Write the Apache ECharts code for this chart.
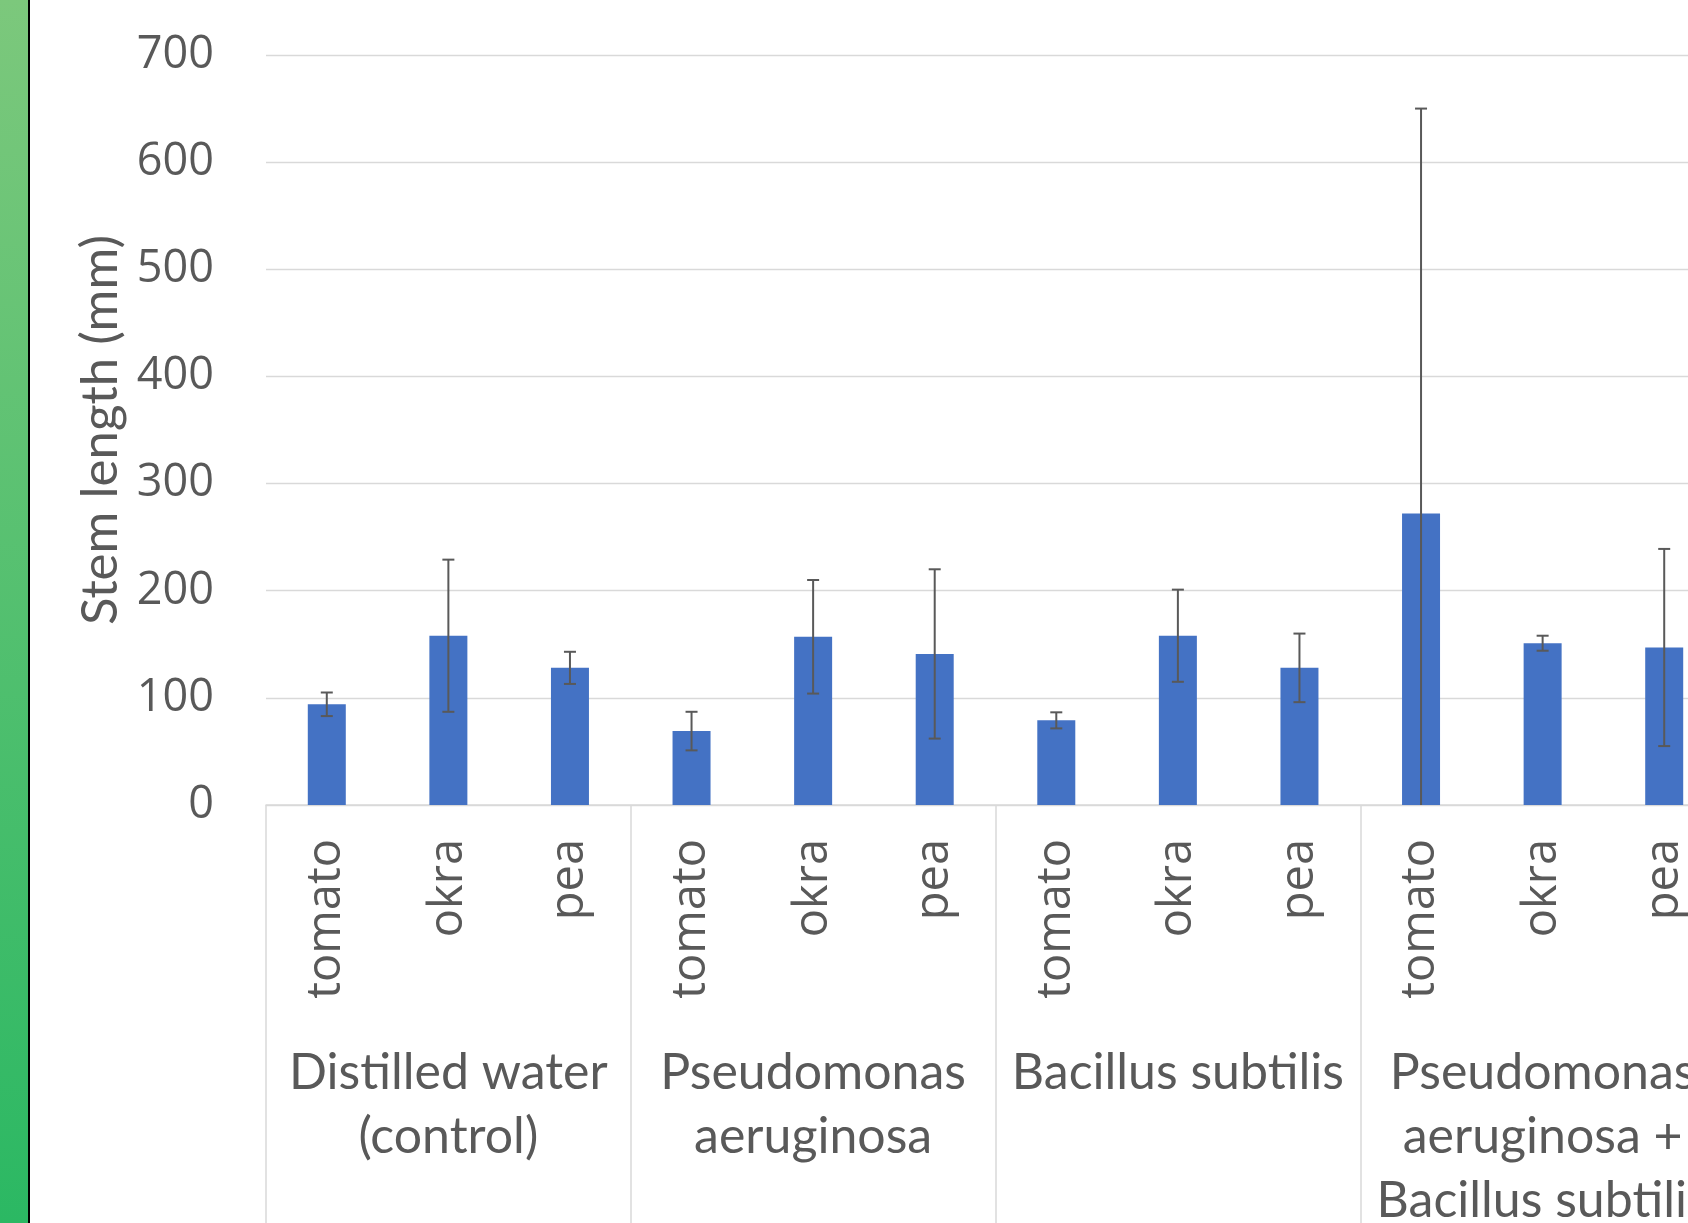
<!DOCTYPE html>
<html>
<head>
<meta charset="utf-8">
<title>Stem length</title>
<script src="https://cdn.jsdelivr.net/npm/echarts@6/dist/echarts.min.js"></script>
<style>
  html, body { margin: 0; padding: 0; background: #fff; }
  #main { width: 1688px; height: 1223px; }
</style>
</head>
<body>
<div id="main"></div>
<script>
// plants per treatment
var plants = ['tomato', 'okra', 'pea', 'tomato', 'okra', 'pea', 'tomato', 'okra', 'pea', 'tomato', 'okra', 'pea'];
var treatments = ['Distilled water\n(control)', 'Pseudomonas\naeruginosa', 'Bacillus subtilis', 'Pseudomonas\naeruginosa +\nBacillus subtilis'];
// mean stem length (mm)
var meanLength = [94, 158, 128, 69, 157, 141, 79, 158, 128, 272, 151, 147];
// error (+/-)
var errLength = [11, 71, 15, 18, 53, 79, 7.5, 43, 32, 378, 7, 92];
var yTicks = [0, 700, 100];

var textColor = '#595959';
var lineColor = '#d9d9d9';
var narrowFont = 'Lato';

var errData = meanLength.map(function (v, i) {
  return [i, v - errLength[i], v + errLength[i]];
});

var chart = echarts.init(document.getElementById('main'));

var option = {
  animation: false,
  backgroundColor: '#fff',
  graphic: [
    {
      type: 'rect',
      left: 0, top: 0,
      shape: { width: 28, height: 1223 },
      style: {
        fill: new echarts.graphic.LinearGradient(0, 0, 0, 1, [
          { offset: 0, color: '#7cc87c' },
          { offset: 1, color: '#2bb863' }
        ])
      },
      silent: true
    },
    {
      type: 'rect',
      left: 28, top: 0,
      shape: { width: 2, height: 1223 },
      style: { fill: '#000' },
      silent: true
    }
  ],
  grid: {
    left: 266,
    right: -37,
    top: 55,
    bottom: 418,
    containLabel: false,
    outerBoundsMode: 'none'
  },
  xAxis: [
    {
      type: 'category',
      data: plants,
      position: 'bottom',
      axisLine: { show: true, lineStyle: { color: lineColor, width: 1.5 } },
      axisTick: { show: false },
      axisLabel: {
        interval: 0,
        rotate: 90,
        margin: 34,
        padding: [8, 0, 0, 0],
        fontSize: 47,
        fontFamily: 'Open Sans',
        color: textColor
      },
      splitLine: { show: false }
    },
    {
      type: 'category',
      data: treatments,
      position: 'bottom',
      axisLine: { show: false },
      axisTick: { show: true, interval: 0, length: 420, lineStyle: { color: lineColor, width: 1.5 } },
      axisLabel: {
        interval: 0,
        margin: 236,
        fontSize: 50,
        lineHeight: 64,
        fontFamily: narrowFont,
        color: textColor
      },
      splitLine: { show: false }
    }
  ],
  yAxis: {
    type: 'value',
    min: yTicks[0],
    max: yTicks[1],
    interval: yTicks[2],
    axisLine: { show: false },
    axisTick: { show: false },
    axisLabel: {
      margin: 52,
      padding: [7, 0, 0, 0],
      fontSize: 45,
      fontFamily: 'Open Sans',
      color: textColor
    },
    splitLine: { lineStyle: { color: lineColor, width: 1.3 } },
    name: 'Stem length (mm)',
    nameLocation: 'middle',
    nameGap: 138,
    nameTextStyle: {
      fontSize: 51,
      fontFamily: narrowFont,
      color: textColor
    }
  },
  series: [
    {
      type: 'bar',
      xAxisIndex: 0,
      data: meanLength,
      barWidth: 38,
      itemStyle: { color: '#4472c4' }
    },
    {
      type: 'custom',
      xAxisIndex: 0,
      data: errData,
      clip: true,
      z: 5,
      renderItem: function (params, api) {
        var x = api.value(0);
        var lo = api.coord([x, api.value(1)]);
        var hi = api.coord([x, api.value(2)]);
        var half = 6;
        var style = { stroke: '#595959', lineWidth: 2 };
        return {
          type: 'group',
          children: [
            { type: 'line', shape: { x1: hi[0], y1: hi[1], x2: lo[0], y2: lo[1] }, style: style },
            { type: 'line', shape: { x1: hi[0] - half, y1: hi[1], x2: hi[0] + half, y2: hi[1] }, style: style },
            { type: 'line', shape: { x1: lo[0] - half, y1: lo[1], x2: lo[0] + half, y2: lo[1] }, style: style }
          ]
        };
      }
    }
  ]
};

chart.setOption(option);
</script>
</body>
</html>
